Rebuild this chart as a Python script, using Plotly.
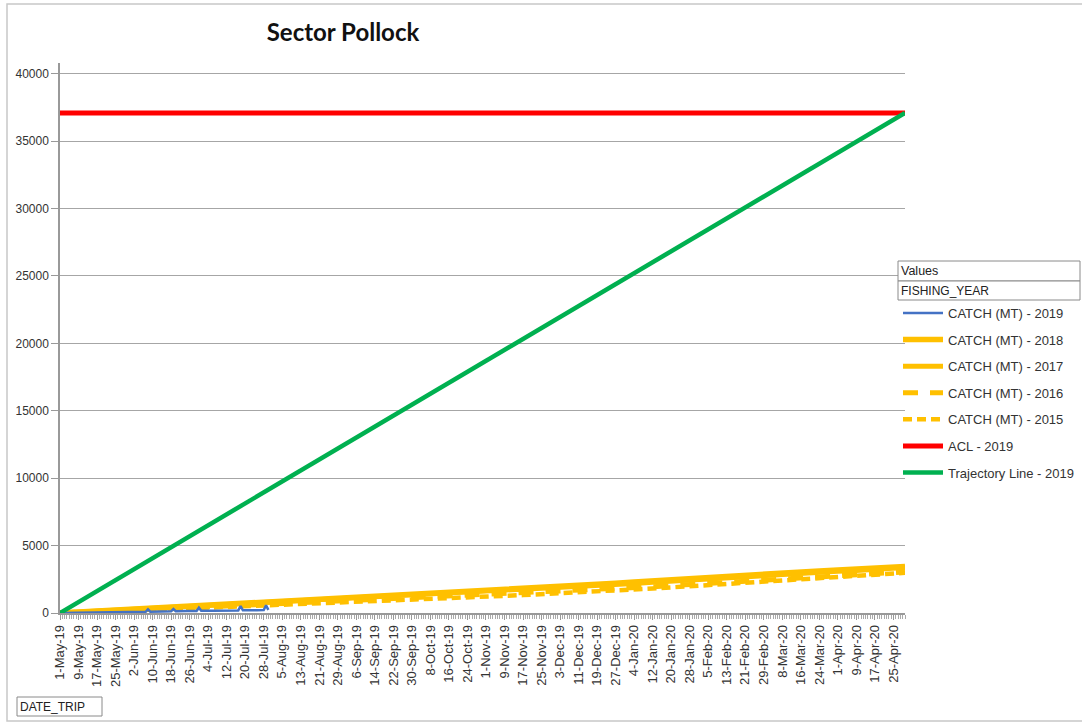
import datetime as dt
import plotly.graph_objects as go

# ---------------- data ----------------
start = dt.date(2019, 5, 1)
catch_days = [0, 8, 16, 24, 32, 40, 48, 56, 64, 72, 80, 88, 96, 104, 112, 120, 128, 136,
              144, 152, 160, 168, 176, 184, 192, 200, 208, 216, 224, 232, 240, 248, 256,
              264, 272, 280, 288, 296, 304, 312, 320, 328, 336, 344, 352, 360, 365]
catch_2018 = [0, 80, 150, 230, 310, 390, 460, 530, 600, 670, 740, 820, 890, 960, 1030, 1100,
              1160, 1230, 1300, 1370, 1430, 1500, 1560, 1640, 1720, 1800, 1880, 1960, 2040,
              2130, 2210, 2300, 2390, 2480, 2570, 2650, 2730, 2810, 2890, 2970, 3050, 3120,
              3190, 3260, 3330, 3400, 3450]
catch_2017 = [0, 70, 140, 210, 280, 350, 420, 490, 560, 620, 690, 760, 830, 900, 960, 1030,
              1090, 1160, 1220, 1290, 1350, 1420, 1480, 1550, 1620, 1700, 1780, 1860, 1940,
              2020, 2100, 2190, 2280, 2370, 2460, 2540, 2620, 2700, 2780, 2860, 2940, 3010,
              3090, 3160, 3230, 3310, 3380]
catch_2016 = [0, 50, 110, 170, 230, 290, 350, 410, 470, 520, 580, 640, 700, 750, 810, 870,
              920, 980, 1040, 1100, 1150, 1210, 1270, 1330, 1390, 1450, 1520, 1590, 1660,
              1730, 1800, 1870, 1950, 2030, 2110, 2190, 2270, 2350, 2430, 2500, 2580, 2660,
              2740, 2820, 2900, 2980, 3050]
catch_2015 = [0, 40, 90, 140, 190, 240, 300, 350, 400, 450, 500, 560, 610, 660, 720, 770,
              820, 880, 930, 990, 1040, 1100, 1150, 1210, 1270, 1330, 1390, 1460, 1530, 1600,
              1670, 1740, 1820, 1900, 1980, 2060, 2140, 2220, 2300, 2380, 2460, 2550, 2640,
              2730, 2820, 2900, 2980]
days_2019 = [0, 5, 10, 15, 20, 25, 30, 35, 37, 38, 39, 44, 48, 49, 50, 55, 59, 60, 61, 66,
             72, 77, 78, 79, 85, 88, 89, 90]
catch_2019 = [0, 10, 20, 30, 40, 50, 60, 80, 90, 270, 100, 110, 120, 290, 130, 140, 150,
              390, 160, 170, 180, 190, 520, 200, 210, 220, 570, 230]
line_days = [0, 365]
acl_2019 = [37100, 37100]
trajectory_2019 = [0, 37100]

y_ticks = [0, 5000, 10000, 15000, 20000, 25000, 30000, 35000, 40000]


def to_dates(days):
    return [start + dt.timedelta(days=d) for d in days]


# ---------------- layout helpers ----------------
W, H = 1082, 723
L, R, T, B = 60, 905, 63, 613


def px2x(px):
    return (px - L) / (R - L)


def py2y(py):
    return (B - py) / (B - T)


YELLOW = "#FFC000"
FONT = "'Liberation Sans', Arial, sans-serif"
TITLE_FONT = "Lato, 'Liberation Sans', sans-serif"

fig = go.Figure()
series = [
    ("CATCH (MT) - 2018", catch_days, catch_2018, YELLOW, 5.5, "solid", 2),
    ("CATCH (MT) - 2017", catch_days, catch_2017, YELLOW, 5, "solid", 3),
    ("CATCH (MT) - 2016", catch_days, catch_2016, YELLOW, 5, "15px,12px", 4),
    ("CATCH (MT) - 2015", catch_days, catch_2015, YELLOW, 4.5, "9px,5px", 5),
    ("CATCH (MT) - 2019", days_2019, catch_2019, "#4472C4", 2.5, "solid", 1),
    ("ACL - 2019", line_days, acl_2019, "#FF0000", 5, "solid", 6),
    ("Trajectory Line - 2019", line_days, trajectory_2019, "#00B050", 4.5, "solid", 7),
]
for name, d, v, color, width, dash, rank in series:
    fig.add_trace(go.Scatter(
        x=to_dates(d), y=v, name=name, mode="lines",
        line=dict(color=color, width=width, dash=dash),
        legendgroup=name, legendrank=rank,
    ))

shapes = [
    # outer chart border
    dict(type="rect", xref="paper", yref="paper",
         x0=px2x(7), x1=px2x(1095), y0=py2y(721), y1=py2y(4),
         line=dict(color="#c8c8c8", width=1.5)),
    # pivot field boxes
    dict(type="rect", xref="paper", yref="paper",
         x0=px2x(898), x1=px2x(1080), y0=py2y(281), y1=py2y(261),
         line=dict(color="#8a8a8a", width=1), fillcolor="white"),
    dict(type="rect", xref="paper", yref="paper",
         x0=px2x(898), x1=px2x(1080), y0=py2y(300), y1=py2y(281),
         line=dict(color="#8a8a8a", width=1), fillcolor="white"),
    dict(type="rect", xref="paper", yref="paper",
         x0=px2x(17), x1=px2x(102), y0=py2y(716), y1=py2y(697),
         line=dict(color="#8a8a8a", width=1), fillcolor="white"),
]

annotations = [
    dict(text="Values", x=px2x(899), y=py2y(271), xref="paper", yref="paper",
         xanchor="left", yanchor="middle", showarrow=False,
         font=dict(size=12.5, color="#222", family=FONT)),
    dict(text="FISHING_YEAR", x=px2x(899), y=py2y(291), xref="paper", yref="paper",
         xanchor="left", yanchor="middle", showarrow=False,
         font=dict(size=12, color="#222", family=FONT)),
    dict(text="DATE_TRIP", x=px2x(18), y=py2y(707), xref="paper", yref="paper",
         xanchor="left", yanchor="middle", showarrow=False,
         font=dict(size=12, color="#222", family=FONT)),
]

fig.update_layout(
    width=W, height=H,
    margin=dict(l=L, r=W - R, t=T, b=H - B, autoexpand=False),
    paper_bgcolor="white", plot_bgcolor="white",
    font=dict(family=FONT, color="#333"),
    title=dict(text="<b>Sector Pollock</b>", x=343 / W, xref="container",
               y=1 - 33 / H, yref="container", xanchor="center", yanchor="middle",
               font=dict(size=24, color="#111", family=TITLE_FONT)),
    showlegend=True,
    legend=dict(x=px2x(898), y=py2y(298), xanchor="left", yanchor="top",
                bgcolor="rgba(0,0,0,0)", borderwidth=0, itemwidth=40,
                tracegroupgap=6.7, traceorder="grouped",
                font=dict(size=13, color="#333", family=FONT)),
    shapes=shapes,
    annotations=annotations,
    xaxis=dict(
        type="date", range=[start, start + dt.timedelta(days=365)],
        tick0=start, dtick=8 * 86400000, tickformat="%-d-%b-%y", tickangle=-90,
        ticks="outside", ticklen=5, tickcolor="#999", showgrid=False,
        showline=True, linecolor="#999", linewidth=1.5,
        minor=dict(dtick=86400000, ticks="outside", ticklen=4, tickcolor="#aaa"),
        tickfont=dict(size=13, color="#333", family=FONT), zeroline=False,
    ),
    yaxis=dict(
        range=[0, 40800], tickvals=y_ticks, tickformat="d", ticks="outside", ticklen=7,
        tickcolor="#999", showgrid=True, gridcolor="#a6a6a6", gridwidth=1.4,
        showline=True, linecolor="#999", linewidth=1.5, zeroline=False,
        tickfont=dict(size=12, color="#333", family=FONT),
    ),
)

fig.write_html("out.html")
